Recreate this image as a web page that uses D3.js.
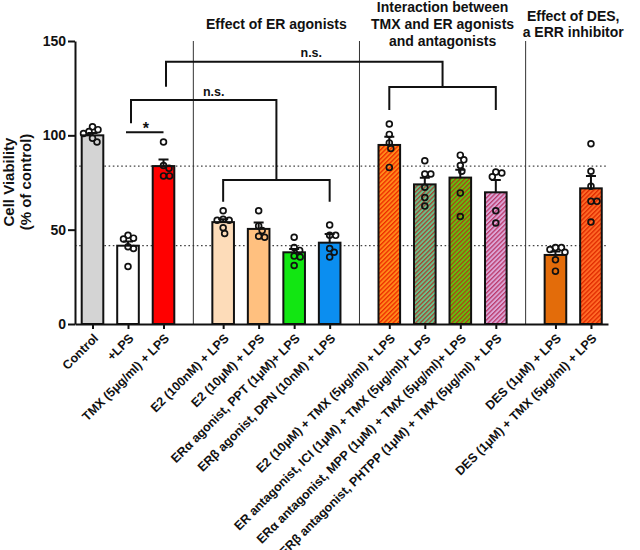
<!DOCTYPE html>
<html><head><meta charset="utf-8">
<script src="https://cdn.jsdelivr.net/npm/d3@7"></script>
<style>
body{margin:0;background:#fff}
text{font-family:"Liberation Sans",Arial,Helvetica,sans-serif;font-weight:bold;fill:#111}
</style>
</head><body>
<svg id="chart" width="640" height="550"></svg>
<script>
// ---------------- data ----------------
const categories = [
  "Control",
  "+LPS",
  "TMX (5μg/ml) + LPS",
  "E2 (100nM) + LPS",
  "E2 (10μM) + LPS",
  "ERα agonist, PPT (1μM)+ LPS",
  "ERβ agonist, DPN (10nM) + LPS",
  "E2 (10μM) + TMX (5μg/ml) + LPS",
  "ER antagonist, ICI (1μM) + TMX (5μg/ml)+ LPS",
  "ERα antagonist, MPP (1μM) + TMX (5μg/ml)+ LPS",
  "ERβ antagonist, PHTPP (1μM) + TMX (5μg/ml) + LPS",
  "DES (1μM) + LPS",
  "DES (1μM) + TMX (5μg/ml) + LPS"
];
const groupOf = [0,0,0,1,1,1,1,2,2,2,2,3,3];
const means = [100, 41.5, 83.7, 54, 50.4, 38, 43.1, 94.9, 74, 77.6, 69.8, 36.6, 71.9];
const sems  = [1.2, 2.2, 3.5, 1.5, 3.4, 1.8, 4.6, 4.4, 3.5, 4.1, 6.5, 1.8, 6.5];
const points = [
  [104.5, 101, 102, 103, 96.5, 98.5],
  [47, 45, 45.5, 41, 40, 30.5],
  [96.5, 84, 82.5, 78.5, 78.5],
  [60, 55.5, 55, 55, 51, 48],
  [60, 52, 49.5, 46.5, 46],
  [46, 40.5, 39, 36, 35.5, 31],
  [52.5, 47, 47, 40, 38, 35.5],
  [106, 100.5, 96, 93, 83],
  [86.5, 79.5, 79.5, 72.5, 67, 62.5],
  [89.5, 87, 84, 81, 69.5, 57],
  [80.5, 78, 80, 60, 53.5],
  [40.5, 38, 39.5, 40.5, 34, 28],
  [95.5, 81, 73, 65, 65, 54]
];
const fillKeys = ["control","lps","tmx","e2lo","e2hi","ppt","dpn","hE2","hICI","hMPP","hPHTPP","des","hDES"];
const groupTitles = [
  ["Effect of ER agonists"],
  ["Interaction between","TMX and ER agonists","and antagonists"],
  ["Effect of DES,","a ERR inhibitor"]
];
const yTicks = [0, 50, 100, 150];

// ---------------- styles ----------------
const solid = {control:"#d4d4d4", lps:"#ffffff", tmx:"#ff0000", e2lo:"#fddcb9", e2hi:"#ffc07f",
               ppt:"#12e612", dpn:"#0b8ef0", des:"#e36c0a"};
const hatch = {hE2:["#ff8a1a","#ee2a00"], hICI:["#66c48c","#a8402e"], hMPP:["#5cc412","#b43a14"],
               hPHTPP:["#dba6d6","#bb3a6c"], hDES:["#ff6a26","#e02a00"]};

const svg = d3.select("#chart");
const gapSlots = 0.68;
const slot = categories.map((c,i) => i + groupOf[i]*gapSlots);
const x = d3.scaleLinear().domain([-0.493, 14.52]).range([75, 608]);
const y = d3.scaleLinear().domain([0, 150]).range([324, 41]);
const barW = 21.6;

// patterns
const defs = svg.append("defs");
Object.entries(hatch).forEach(([k,[base,stripe]]) => {
  const p = defs.append("pattern").attr("id", k).attr("patternUnits","userSpaceOnUse")
    .attr("width", 3.2).attr("height", 3.2).attr("patternTransform","rotate(45)");
  p.append("rect").attr("width",3.2).attr("height",3.2).attr("fill",base);
  p.append("rect").attr("width",1.3).attr("height",3.2).attr("fill",stripe);
});
const fillOf = k => solid[k] ? solid[k] : `url(#${k})`;

// reference dotted lines (LPS mean and TMX mean)
[means[1], means[2]].forEach(v => {
  svg.append("line").attr("x1", x.range()[0]).attr("x2", x.range()[1])
    .attr("y1", y(v)).attr("y2", y(v))
    .attr("stroke","#444").attr("stroke-width",1.2).attr("stroke-dasharray","1.6,2.6");
});

// group separators
for (let i = 1; i < categories.length; i++) {
  if (groupOf[i] !== groupOf[i-1]) {
    const sx = (x(slot[i]) + x(slot[i-1])) / 2;
    svg.append("line").attr("x1",sx).attr("x2",sx).attr("y1",y(150)).attr("y2",y(0))
      .attr("stroke","#333").attr("stroke-width",1);
  }
}

// axes
const yAxis = svg.append("g").attr("transform",`translate(${x.range()[0]},0)`)
  .call(d3.axisLeft(y).tickValues(yTicks).tickSize(7).tickPadding(2).tickSizeOuter(0));
yAxis.selectAll("path,line").attr("stroke","#111").attr("stroke-width",2);
yAxis.selectAll("text").style("font-size","14px").style("font-family",'"Liberation Sans",Arial,sans-serif').style("font-weight","bold").attr("fill","#111");

const xAxis = svg.append("g").attr("transform",`translate(0,${y(0)})`)
  .call(d3.axisBottom(x).tickValues(slot).tickSize(5).tickSizeOuter(0)
        .tickFormat((d,i) => categories[i]));
xAxis.selectAll("path,line").attr("stroke","#111").attr("stroke-width",2);
xAxis.selectAll("text")
  .style("font-size","12.5px").style("font-family",'"Liberation Sans",Arial,sans-serif').style("font-weight","bold")
  .attr("fill","#111").attr("text-anchor","end").attr("dy",null).attr("y",null)
  .attr("transform","translate(6,15) rotate(-45)");

// bars
svg.append("g").selectAll("rect").data(means).join("rect")
  .attr("x",(d,i)=>x(slot[i]) - barW/2).attr("width",barW)
  .attr("y",d=>y(d)).attr("height",d=>y(0)-y(d))
  .attr("fill",(d,i)=>fillOf(fillKeys[i]))
  .attr("stroke","#111").attr("stroke-width",2);

// error bars (upper only)
const eb = svg.append("g").attr("stroke","#111").attr("stroke-width",2).attr("fill","none");
means.forEach((m,i) => {
  const cx = x(slot[i]);
  eb.append("path").attr("d",`M${cx},${y(m)}V${y(m+sems[i])}M${cx-5},${y(m+sems[i])}H${cx+5}`);
});

// points (simple dodge)
const r = 2.9, minD = 5.8;
function dodge(vals, cx){
  const order = vals.map((v,i)=>i).sort((a,b)=>vals[b]-vals[a]);
  const placed = [], out = [];
  for (const i of order){
    const py = y(vals[i]);
    let px = cx;
    for (let k = 0; k < 400; k++){
      const off = (k % 2 ? 1 : -1) * Math.ceil(k/2) * 0.5;
      const cand = cx + off;
      if (placed.every(p => Math.hypot(p[0]-cand, p[1]-py) >= minD)) { px = cand; break; }
    }
    placed.push([px,py]); out[i] = [px,py];
  }
  return out;
}
const pg = svg.append("g").attr("fill","none").attr("stroke","#111").attr("stroke-width",1.7);
points.forEach((vals,i) => {
  dodge(vals, x(slot[i])).forEach(([px,py]) => pg.append("circle").attr("cx",px).attr("cy",py).attr("r",r));
});

// significance brackets
const br = svg.append("g").attr("stroke","#111").attr("stroke-width",2).attr("fill","none");
const midG2 = (x(slot[3]) + x(slot[6]))/2, midG3 = (x(slot[7]) + x(slot[10]))/2;
br.append("path").attr("d",`M${x(slot[1])-2},${y(101.6)}H${x(slot[2])}`);
br.append("path").attr("d",`M${x(slot[1])+3},${y(106.4)}V${y(118.7)}H${midG2}V${y(76.3)}`);
br.append("path").attr("d",`M${x(slot[3])},${y(64.8)}V${y(76.3)}H${x(slot[6])}V${y(64.8)}`);
br.append("path").attr("d",`M${x(slot[2])+2.5},${y(125.7)}V${y(139)}H${midG3}V${y(125.6)}`);
br.append("path").attr("d",`M${x(slot[7])},${y(113.4)}V${y(125.6)}H${x(slot[10])}V${y(113.4)}`);

svg.append("text").attr("x",(x(slot[1])+x(slot[2]))/2).attr("y",y(101.6)+1.5)
  .attr("text-anchor","middle").style("font-size","16px").text("*");
svg.append("text").attr("x",(x(slot[1])+3+midG2)/2+10).attr("y",y(118.7)-4)
  .attr("text-anchor","middle").style("font-size","12.5px").text("n.s.");
svg.append("text").attr("x",(x(slot[2])+2.5+midG3)/2+7).attr("y",y(139)-4.5)
  .attr("text-anchor","middle").style("font-size","12.5px").text("n.s.");

// y label
const yl = svg.append("text").attr("transform",`translate(14,182) rotate(-90)`)
  .attr("text-anchor","middle").style("font-size","15px");
yl.append("tspan").attr("x",0).attr("y",0).text("Cell Viability");
yl.append("tspan").attr("x",0).attr("y",16.5).text("(% of control)");

// group titles
groupTitles.forEach((lines, gi) => {
  const idx = categories.map((c,i)=>i).filter(i => groupOf[i] === gi+1);
  const cx = (x(slot[idx[0]]) + x(slot[idx[idx.length-1]]))/2;
  const t = svg.append("text").attr("text-anchor","middle").style("font-size","14px");
  lines.forEach((ln, li) => {
    t.append("tspan").attr("x",cx).attr("y", 29 + (li - (lines.length-1)/2)*16.8).text(ln);
  });
  let maxHalf = 0;
  t.selectAll("tspan").each(function(){ maxHalf = Math.max(maxHalf, this.getComputedTextLength()/2); });
  const clamped = Math.min(cx, 640 - maxHalf - 1);
  t.selectAll("tspan").attr("x", clamped);
});
</script>
</body></html>
